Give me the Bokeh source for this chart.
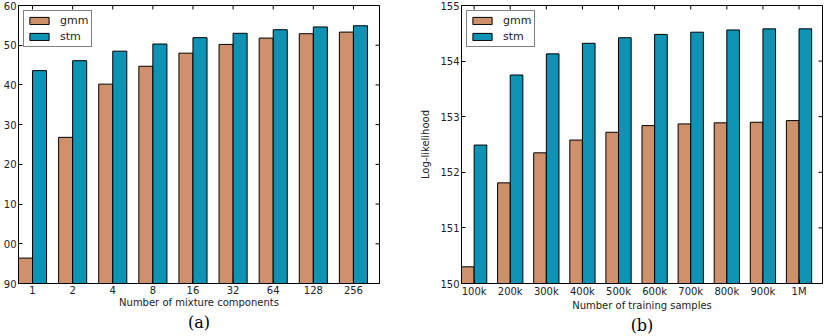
import numpy as np
from bokeh.plotting import figure
from bokeh.models import FixedTicker, LinearAxis, Range1d, Legend, LegendItem
from bokeh.layouts import row
from bokeh.embed import file_html
from bokeh.resources import INLINE

# ---- panel (a) data ----
comp_labels = ["1", "2", "4", "8", "16", "32", "64", "128", "256"]
comp_gmm = [96.4, 126.8, 140.2, 144.7, 148.0, 150.2, 151.8, 152.9, 153.3]
comp_stm = [143.6, 146.1, 148.5, 150.3, 151.9, 153.0, 153.9, 154.6, 154.9]
comp_yticks = [90, 100, 110, 120, 130, 140, 150, 160]
comp_ytick_labels = ["90", "00", "10", "20", "30", "40", "50", "60"]

# ---- panel (b) data ----
samp_labels = ["100k", "200k", "300k", "400k", "500k", "600k", "700k", "800k", "900k", "1M"]
samp_gmm = [150.30, 151.81, 152.35, 152.58, 152.72, 152.84, 152.87, 152.89, 152.90, 152.93]
samp_stm = [152.49, 153.75, 154.13, 154.32, 154.42, 154.48, 154.52, 154.56, 154.58, 154.58]
samp_yticks = [150, 151, 152, 153, 154, 155]
samp_ytick_labels = ["150", "151", "152", "153", "154", "155"]

GMM_COLOR = "#cf916b"
STM_COLOR = "#0f93b5"
FONT = "DejaVu Sans"
SERIF = "DejaVu Serif"


def style_axis(ax):
    ax.axis_line_color = "black"
    ax.major_tick_in = 4
    ax.major_tick_out = 0
    ax.minor_tick_in = 0
    ax.minor_tick_out = 0
    ax.major_tick_line_color = "black"
    ax.major_label_text_font = FONT
    ax.major_label_text_font_size = "10px"
    ax.major_label_text_color = "#222222"
    ax.major_label_standoff = 2
    ax.axis_label_text_font = FONT
    ax.axis_label_text_font_size = "10px"
    ax.axis_label_text_font_style = "normal"
    ax.axis_label_text_color = "#222222"


def panel(labels, gmm, stm, yticks, ytick_labels, ylabel, xlabel, caption,
          mb_left, mb_right):
    n = len(labels)
    idx = np.arange(n)
    y0, y1 = yticks[0], yticks[-1]
    p = figure(frame_width=361, frame_height=278, output_backend="svg",
               toolbar_location=None, x_range=Range1d(0, n), y_range=Range1d(y0, y1),
               x_axis_location=None, y_axis_location=None,
               min_border_left=mb_left, min_border_right=mb_right,
               min_border_top=5, min_border_bottom=5)
    p.xgrid.visible = False
    p.ygrid.visible = False
    p.outline_line_color = "black"
    p.outline_line_width = 1
    p.background_fill_color = "white"
    p.border_fill_color = "white"

    r1 = p.vbar(x=idx + 0.175, top=gmm, bottom=y0, width=0.35,
                fill_color=GMM_COLOR, line_color="black", line_width=1)
    r2 = p.vbar(x=idx + 0.525, top=stm, bottom=y0, width=0.35,
                fill_color=STM_COLOR, line_color="black", line_width=1)

    xt = [float(i) + 0.35 for i in idx]
    xover = {t: lab for t, lab in zip(xt, labels)}
    yover = {t: lab for t, lab in zip(yticks, ytick_labels)}

    # inward ticks on the top and right spines (matplotlib style)
    p.ray(x=xt, y=[y1] * n, length=4, length_units="screen", angle=-np.pi / 2,
          line_color="black", line_width=1)
    p.ray(x=[n] * len(yticks), y=yticks, length=4, length_units="screen",
          angle=np.pi, line_color="black", line_width=1)

    xb = LinearAxis(ticker=FixedTicker(ticks=xt), major_label_overrides=xover,
                    axis_label=xlabel)
    style_axis(xb)
    xb.axis_label_standoff = 0
    p.add_layout(xb, "below")

    cap = LinearAxis(ticker=FixedTicker(ticks=[]), axis_label=caption)
    style_axis(cap)
    cap.axis_line_color = None
    cap.major_label_standoff = 0
    cap.axis_label_text_font = SERIF
    cap.axis_label_text_font_size = "16px"
    cap.axis_label_text_color = "black"
    cap.axis_label_standoff = 2
    p.add_layout(cap, "below")

    yl = LinearAxis(ticker=FixedTicker(ticks=yticks), major_label_overrides=yover,
                    axis_label=ylabel)
    style_axis(yl)
    yl.axis_label_standoff = 6
    p.add_layout(yl, "left")

    legend = Legend(items=[LegendItem(label="gmm", renderers=[r1]),
                           LegendItem(label="stm", renderers=[r2])],
                    location="top_left")
    legend.margin = 5
    legend.padding = 3
    legend.spacing = 3
    legend.glyph_width = 24
    legend.glyph_height = 9
    legend.label_height = 13
    legend.label_standoff = 9
    legend.label_text_font = FONT
    legend.label_text_font_size = "11px"
    legend.label_text_color = "#222222"
    legend.border_line_color = "black"
    legend.border_line_width = 1
    legend.background_fill_alpha = 1.0
    p.add_layout(legend)
    return p


p1 = panel(comp_labels, comp_gmm, comp_stm, comp_yticks, comp_ytick_labels,
           None, "Number of mixture components", "(a)", 15, 10)
p2 = panel(samp_labels, samp_gmm, samp_stm, samp_yticks, samp_ytick_labels,
           "Log-likelihood", "Number of training samples", "(b)", 72, 7)

layout = row(p1, p2)
open("out.html", "w").write(file_html(layout, INLINE))
